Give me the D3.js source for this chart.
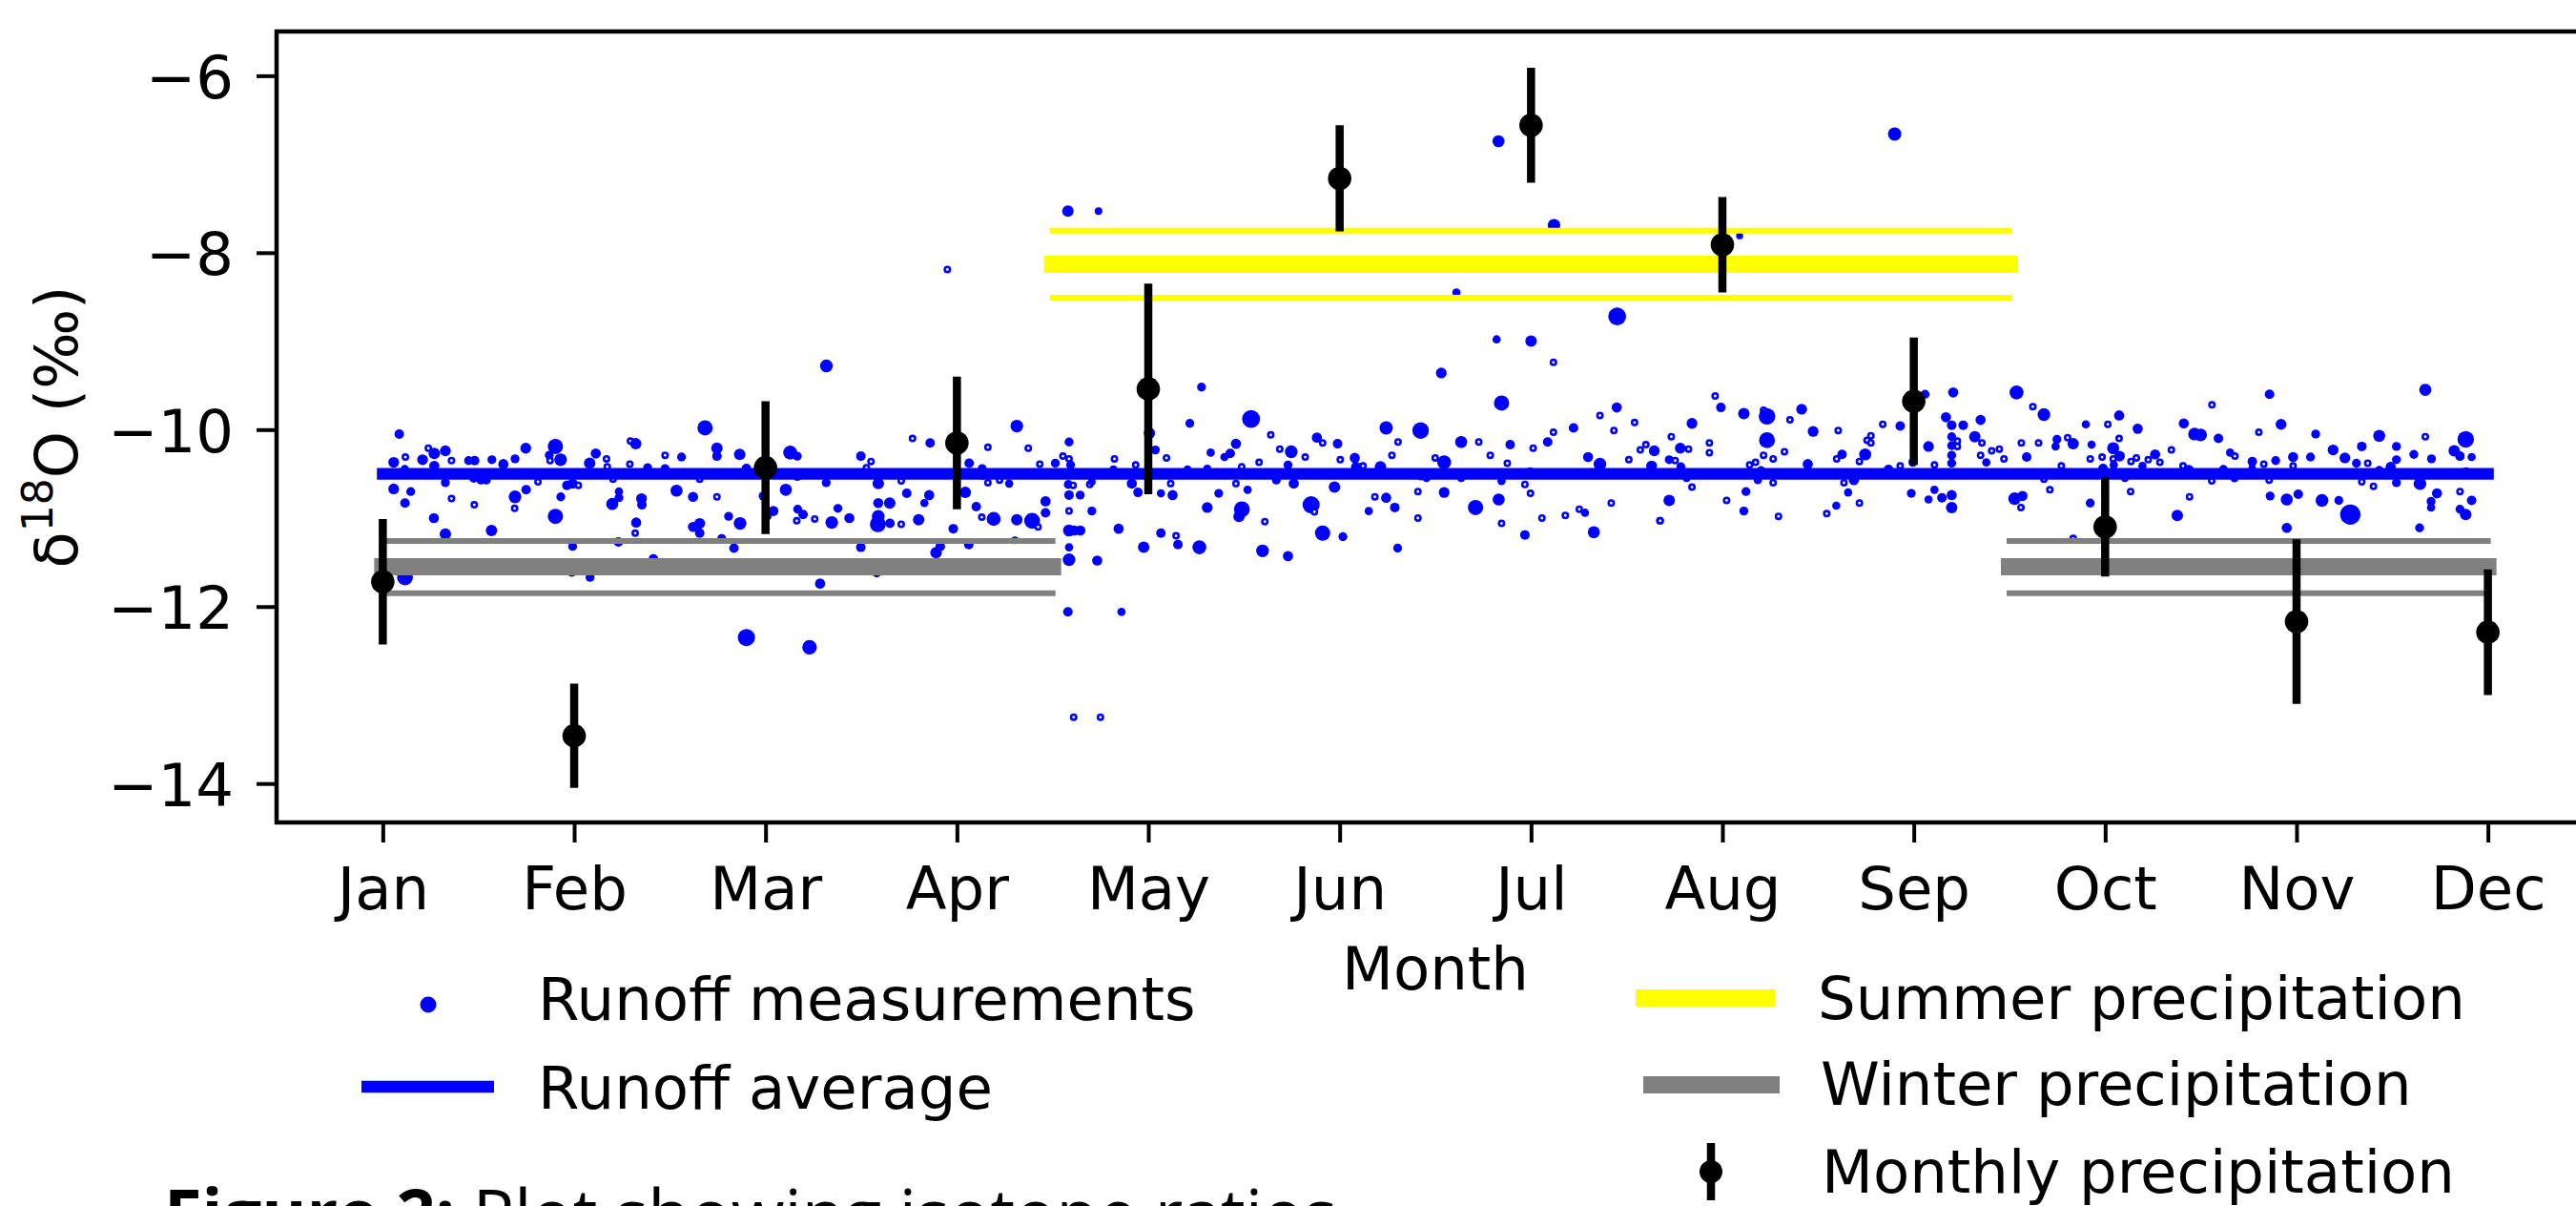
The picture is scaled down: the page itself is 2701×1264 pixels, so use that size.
<!DOCTYPE html>
<html>
<head>
<meta charset="utf-8">
<script src="https://cdn.jsdelivr.net/npm/d3@7"></script>
<style>
  body { margin: 0; background: #fff; overflow: hidden; }
  svg { display: block; font-family: "DejaVu Sans", sans-serif; }
</style>
</head>
<body>
<div id="chart"></div>
<script>
// tick labels
var months = ["Jan", "Feb", "Mar", "Apr", "May", "Jun", "Jul", "Aug", "Sep", "Oct", "Nov", "Dec"];
var yTicks = [-14, -12, -10, -8, -6];

// monthly precipitation, mean and error per month
var precipMean = [-11.72, -13.46, -10.43, -10.15, -9.54, -7.16, -6.56, -7.91, -9.68, -11.10, -12.17, -12.29];
var precipErr = [0.71, 0.59, 0.75, 0.75, 1.19, 0.60, 0.65, 0.54, 0.72, 0.56, 0.93, 0.71];

// runoff average over the year
var runoffAverage = -10.5;
var runoffSpan = [1, 12];

// seasonal precipitation: mean and the two limit lines
var summerMean = -8.13;
var summerLimits = [-7.75, -8.51];
var summerSpan = [4.5, 9.5];
var winterMean = -11.55;
var winterLimits = [-11.26, -11.85];
var winterSpans = [[1, 4.5], [9.5, 12]];

// runoff measurements: [month, d18O, marker size] (size 0 = tiny open marker)
var runoff = [
  [1.086,-10.05,15],[1.057,-10.37,17],[1.118,-10.31,0],[1.115,-10.45,14],[1.057,-10.67,17],[1.146,-10.70,14],[1.116,-10.83,15],[1.208,-10.34,17],[1.238,-10.21,0],[1.269,-10.27,18],[1.269,-10.41,16],[1.327,-10.24,17],[1.359,-10.35,0],[1.327,-10.60,14],[1.359,-10.78,0],[1.267,-11.00,16],[1.327,-11.18,18],[1.448,-10.35,14],[1.480,-10.35,15],[1.478,-10.85,0],[1.475,-10.55,14],[1.513,-10.57,14],[1.541,-10.57,14],[1.570,-10.34,14],[1.630,-10.39,16],[1.568,-11.14,18],[1.691,-10.33,14],[1.747,-10.21,17],[1.691,-10.76,20],[1.689,-10.89,0],[1.749,-10.68,15],[1.811,-10.59,0],[1.870,-10.29,14],[1.874,-10.35,0],[1.902,-10.19,24],[1.929,-10.34,20],[1.930,-10.76,14],[1.962,-10.63,15],[1.992,-10.61,16],[2.022,-10.63,0],[1.902,-10.98,24],[1.992,-11.32,14],[1.988,-11.62,12],[2.081,-10.38,18],[2.113,-10.27,16],[2.083,-11.67,14],[2.169,-10.33,0],[2.173,-10.42,0],[2.203,-10.56,0],[2.234,-10.70,13],[2.234,-10.77,14],[2.199,-10.84,19],[2.231,-11.27,15],[2.294,-10.13,0],[2.322,-10.16,18],[2.291,-10.39,0],[2.384,-10.43,14],[2.352,-10.78,17],[2.354,-10.85,15],[2.324,-11.05,16],[2.319,-11.17,0],[2.414,-11.46,15],[2.475,-10.29,0],[2.475,-10.44,14],[2.561,-10.31,14],[2.535,-10.69,19],[2.621,-10.76,16],[2.656,-10.56,0],[2.684,-9.98,24],[2.746,-10.21,18],[2.746,-10.30,15],[2.746,-10.76,0],[2.621,-11.10,16],[2.656,-11.06,17],[2.656,-11.17,15],[2.771,-11.23,14],[2.807,-10.98,14],[2.865,-10.28,18],[2.900,-10.44,15],[2.835,-11.34,15],[2.867,-11.06,20],[2.987,-10.75,14],[3.041,-10.92,16],[3.008,-10.98,14],[3.106,-10.68,19],[3.129,-10.26,22],[3.166,-10.30,14],[3.166,-10.53,14],[3.168,-10.90,14],[3.196,-10.96,15],[3.163,-11.03,0],[1.116,-11.67,25],
  [3.95,-8.19,0],[2.90,-12.35,27],[3.23,-12.46,23],[4.58,-7.53,18],[4.74,-7.53,12],[4.61,-13.25,0],[4.75,-13.25,0],[4.58,-12.06,15],[4.86,-12.06,13],
  [3.318,-9.28,20],[3.317,-10.60,14],[3.378,-10.89,14],[3.257,-11.01,0],[3.346,-11.05,20],[3.438,-11.00,16],[3.498,-10.30,15],[3.551,-10.36,0],[3.527,-10.43,0],[3.589,-10.61,18],[3.589,-10.83,16],[3.649,-10.83,18],[3.589,-10.98,20],[3.587,-11.07,25],[3.650,-11.06,15],[3.709,-10.58,0],[3.709,-11.07,0],[3.498,-11.33,15],[3.581,-11.62,14],[3.285,-11.74,16],[3.768,-10.10,0],[3.860,-10.15,15],[3.738,-10.72,15],[3.830,-10.83,13],[3.855,-10.74,16],[3.800,-11.02,18],[3.913,-11.32,15],[3.891,-11.39,18],[3.981,-11.12,15],[4.044,-10.71,18],[4.064,-10.38,15],[4.132,-10.44,14],[4.135,-10.52,13],[4.162,-10.20,0],[4.162,-10.60,0],[4.223,-10.57,0],[4.101,-10.87,15],[4.130,-10.99,0],[4.192,-11.01,22],[4.062,-11.30,15],[4.273,-10.61,13],[4.313,-9.96,20],[4.373,-10.21,0],[4.313,-11.02,18],[4.393,-11.03,25],[4.424,-11.10,0],[4.303,-11.25,12],[4.433,-10.39,0],[4.463,-10.81,16],[4.463,-10.94,15],[4.514,-10.38,14],[4.554,-10.30,0],[4.586,-10.14,14],[4.586,-10.33,0],[4.594,-10.40,14],[4.582,-10.62,14],[4.607,-10.63,0],[4.586,-10.74,15],[4.586,-10.92,0],[4.586,-11.14,19],[4.614,-11.14,16],[4.645,-11.14,16],[4.586,-11.33,13],[4.586,-11.47,20],[4.644,-10.74,14],[4.694,-10.62,0],[4.705,-10.59,12],[4.705,-10.92,14],[4.733,-11.48,16],[4.823,-10.33,0],[4.818,-10.45,13],[4.845,-11.12,16],[4.914,-10.61,16],[4.934,-10.40,0],[4.946,-10.71,15],[5.006,-10.04,18],[5.037,-10.23,14],[5.066,-10.72,13],[5.066,-11.17,15],[4.976,-11.33,18],[5.095,-10.32,0],[5.117,-10.61,0],[5.127,-10.74,16],[5.145,-11.20,0],[5.155,-11.30,15],[5.217,-9.93,14],[5.278,-9.52,14],[5.205,-10.45,13],[5.267,-11.33,22],[5.308,-10.88,17],[5.326,-10.26,13],[5.308,-10.44,12],[5.368,-10.72,14],[5.398,-10.31,13],[5.428,-10.27,15],
  [5.458,-10.16,16],[5.458,-10.61,0],[5.489,-10.90,25],[5.474,-10.98,18],[5.488,-10.42,0],[5.519,-10.68,13],[5.537,-9.88,28],[5.579,-10.37,0],[5.640,-10.06,0],[5.687,-10.22,0],[5.669,-10.57,14],[5.730,-10.40,14],[5.747,-10.25,20],[5.760,-10.61,16],[5.820,-10.31,0],[5.609,-11.04,0],[5.597,-11.37,20],[5.730,-11.43,16],[5.851,-10.85,27],[5.868,-10.93,0],[5.881,-10.09,16],[5.911,-10.15,0],[5.989,-10.16,15],[6.003,-10.34,0],[5.973,-10.65,18],[5.911,-11.17,24],[6.017,-11.21,14],[6.079,-10.32,16],[6.086,-10.42,16],[6.122,-10.41,0],[6.213,-10.42,18],[6.243,-9.98,21],[6.184,-10.76,0],[6.243,-10.77,16],[6.288,-10.88,15],[6.152,-10.92,13],[6.305,-10.14,0],[6.273,-10.29,0],[6.303,-11.34,14],[6.423,-10.01,26],[6.426,-10.53,12],[6.454,-10.55,12],[6.409,-10.70,0],[6.409,-11.00,0],[6.531,-9.36,17],[6.499,-10.32,0],[6.546,-10.37,22],[6.546,-10.71,17],[6.635,-10.14,19],[6.635,-10.55,12],[6.710,-10.88,24],[6.727,-10.14,0],[6.787,-10.29,0],[6.846,-9.70,24],[6.891,-10.17,15],[6.876,-10.38,0],[6.846,-10.58,13],[6.831,-10.79,19],[6.846,-11.06,0],[6.968,-10.62,0],[6.997,-10.72,0],[6.996,-10.47,12],[7.011,-10.21,0],[6.968,-11.19,15],[7.087,-10.14,15],[7.117,-10.03,0],[7.117,-9.24,0],[7.057,-11.00,0],[7.222,-9.98,15],[7.179,-10.97,0],[7.252,-10.90,0],[7.282,-10.94,13],[7.298,-10.31,16],[7.360,-10.39,20],[7.328,-11.16,19],[7.360,-9.84,0],[7.448,-9.75,16],[7.433,-10.01,0],[7.419,-10.83,0],[7.511,-10.34,0],[7.541,-9.92,0],[7.571,-10.23,0],[7.600,-10.17,0],[7.644,-10.24,17],[7.630,-10.41,17],[7.673,-11.03,0],
  [6.83,-6.74,19],[7.12,-7.69,20],[6.61,-8.45,13],[7.45,-8.72,28],[6.82,-8.98,13],[7.00,-9.00,18],[8.09,-7.81,11],[8.90,-6.66,21],
  [7.733,-10.08,0],[7.722,-10.34,14],[7.753,-10.35,0],[7.780,-10.21,17],[7.783,-10.42,14],[7.813,-10.55,12],[7.823,-10.22,0],[7.841,-9.93,17],[7.841,-10.65,0],[7.722,-10.80,18],[7.675,-11.03,0],[7.932,-10.15,0],[7.932,-10.26,0],[7.962,-9.62,0],[7.992,-9.75,15],[8.022,-10.80,0],[8.112,-9.82,18],[8.123,-10.70,14],[8.112,-10.92,14],[8.142,-10.40,0],[8.173,-10.37,0],[8.185,-10.57,13],[8.202,-10.46,13],[8.215,-10.29,0],[8.215,-9.78,0],[8.233,-9.85,26],[8.233,-10.12,25],[8.265,-10.33,0],[8.265,-10.60,0],[8.293,-10.98,0],[8.324,-10.25,0],[8.353,-9.89,0],[8.414,-9.77,17],[8.474,-10.02,17],[8.446,-10.39,16],[8.545,-10.95,0],[8.595,-10.86,13],[8.605,-10.01,0],[8.597,-10.33,0],[8.625,-10.28,15],[8.635,-10.60,0],[8.657,-10.71,13],[8.687,-10.57,16],[8.716,-10.36,0],[8.716,-10.83,0],[8.746,-10.28,19],[8.756,-10.12,0],[8.776,-10.07,0],[8.776,-10.15,0],[8.838,-9.94,0],[8.868,-10.45,15],[8.929,-9.96,15],[8.929,-10.41,0],[8.987,-10.72,14],[8.995,-10.37,14],[9.059,-9.60,14],[9.077,-10.19,17],[9.108,-10.40,0],[9.108,-10.68,13],[9.077,-10.79,13],[9.147,-10.77,15],[9.168,-9.86,16],[9.198,-9.95,15],[9.206,-9.58,16],[9.198,-10.08,14],[9.198,-10.18,14],[9.198,-10.29,14],[9.198,-10.38,14],[9.228,-10.13,0],[9.228,-10.19,0],[9.198,-10.74,16],[9.198,-10.88,18],[9.258,-9.95,15],[9.319,-10.08,18],[9.349,-9.89,16],[9.356,-10.15,0],[9.349,-10.29,0],[9.379,-10.37,13],[9.407,-10.24,0],[9.447,-10.22,0],[9.471,-10.33,0],[9.537,-9.58,22],[9.562,-10.15,0],[9.590,-10.31,15],[9.527,-10.78,20],[9.568,-10.75,16],[9.560,-10.88,0],[9.622,-9.74,0],[9.680,-9.83,20],[9.652,-10.15,0],[9.680,-10.56,0],[9.711,-10.68,0],[9.741,-10.19,13],[9.748,-10.11,14],[9.771,-10.41,0],[9.804,-10.09,0],[9.833,-10.16,18],[9.899,-9.94,13],[9.929,-10.17,13],[9.922,-10.33,0],[9.922,-10.83,14],[9.833,-11.23,0],
  [10.014,-9.94,0],[10.073,-9.84,16],[10.073,-10.10,0],[10.042,-10.21,19],[10.075,-10.30,17],[10.042,-10.33,0],[9.984,-10.31,0],[9.989,-10.44,15],[10.045,-10.40,13],[10.103,-10.55,0],[10.133,-10.70,0],[10.135,-10.36,0],[10.163,-10.32,0],[10.170,-9.99,16],[10.195,-10.41,13],[10.225,-10.34,0],[10.261,-10.28,16],[10.286,-10.37,0],[10.346,-10.23,0],[10.407,-10.41,0],[10.411,-9.93,16],[10.437,-10.46,17],[10.441,-10.76,0],[10.377,-10.97,18],[10.467,-10.05,20],[10.499,-10.06,20],[10.558,-9.72,0],[10.592,-10.10,15],[10.557,-10.58,0],[10.618,-10.45,14],[10.653,-10.26,13],[10.678,-10.30,0],[10.676,-10.55,13],[10.769,-10.36,15],[10.768,-10.44,12],[10.803,-10.03,0],[10.829,-10.39,0],[10.859,-9.60,15],[10.857,-10.57,0],[10.862,-10.75,14],[10.891,-10.35,14],[10.919,-9.94,17],[10.949,-10.79,19],[10.949,-11.11,16],[10.982,-10.31,16],[10.982,-10.41,0],[11.009,-10.73,15],[11.073,-10.31,14],[11.100,-10.05,14],[11.133,-10.80,20],[11.191,-10.23,17],[11.221,-10.80,14],[11.253,-10.32,17],[11.281,-10.96,32],[11.313,-10.38,14],[11.341,-10.19,15],[11.341,-10.59,0],[11.372,-10.38,0],[11.402,-10.64,0],[11.432,-10.07,19],[11.432,-10.46,14],[11.492,-10.42,16],[11.522,-10.19,14],[11.522,-10.34,14],[11.522,-10.60,14],[11.613,-10.28,14],[11.645,-10.61,20],[11.643,-11.11,14],[11.673,-9.55,19],[11.673,-10.08,0],[11.705,-10.33,14],[11.734,-10.72,16],[11.703,-10.81,14],[11.703,-10.88,13],[11.824,-10.24,18],[11.854,-10.30,15],[11.884,-10.11,26],[11.915,-10.31,13],[11.854,-10.70,0],[11.915,-10.80,15],[11.854,-10.90,14],[11.884,-10.96,18],[11.886,-10.47,12]
];

// legend entries
var legendLeft = ["Runoff measurements", "Runoff average"];
var legendRight = ["Summer precipitation", "Winter precipitation", "Monthly precipitation"];
var caption = ["Figure 2:", " Plot showing isotope ratios"];

// figure size and axes box (the right spine sits just off the picture)
var W = 2701, H = 1264;
var box = {left: 290, right: 2720, top: 33, bottom: 862};
var fontSize = 62.5;

var svg = d3.select("#chart")
  .append("svg")
    .attr("width", W)
    .attr("height", H);

var x = d3.scaleLinear().domain([0.445, 12.555]).range([box.left, box.right]);
var y = d3.scaleLinear().domain([-14.44, -5.50]).range([box.bottom, box.top]);
var r = d3.scaleLinear().domain([0, 30]).range([0, 10]);

var hline = d3.line()
  .x(function(d) { return x(d[0]); })
  .y(function(d) { return y(d[1]); });

// scatter of runoff measurements
svg.append("g")
  .selectAll("circle")
  .data(runoff)
  .join("circle")
    .attr("cx", function(d) { return x(d[0]); })
    .attr("cy", function(d) { return y(d[1]); })
    .attr("r", function(d) { return d[2] > 0 ? r(d[2]) : 2.7; })
    .attr("fill", function(d) { return d[2] > 0 ? "#0000ff" : "#ffffff"; })
    .attr("stroke", function(d) { return d[2] > 0 ? "none" : "#0000ff"; })
    .attr("stroke-width", 2.6);

// runoff average
svg.append("path")
  .attr("d", hline([[runoffSpan[0], runoffAverage], [runoffSpan[1], runoffAverage]]))
  .attr("stroke", "#0000ff")
  .attr("stroke-width", 12.3)
  .attr("stroke-linecap", "square")
  .attr("fill", "none");

// seasonal bands: thick mean line plus two thin limit lines
function band(span, mean, limits, colour) {
  limits.forEach(function(v) {
    svg.append("path")
      .attr("d", hline([[span[0], v], [span[1], v]]))
      .attr("stroke", colour)
      .attr("stroke-width", 6)
      .attr("stroke-linecap", "square")
      .attr("fill", "none");
  });
  svg.append("path")
    .attr("d", hline([[span[0], mean], [span[1], mean]]))
    .attr("stroke", colour)
    .attr("stroke-width", 18)
    .attr("stroke-linecap", "square")
    .attr("fill", "none");
}
band(summerSpan, summerMean, summerLimits, "#ffff00");
winterSpans.forEach(function(s) { band(s, winterMean, winterLimits, "#808080"); });

// monthly precipitation error bars
var eb = svg.append("g");
eb.selectAll("line")
  .data(precipMean)
  .join("line")
    .attr("x1", function(d, i) { return x(i + 1); })
    .attr("x2", function(d, i) { return x(i + 1); })
    .attr("y1", function(d, i) { return y(d + precipErr[i]); })
    .attr("y2", function(d, i) { return y(d - precipErr[i]); })
    .attr("stroke", "#000")
    .attr("stroke-width", 8.5);
eb.selectAll("circle")
  .data(precipMean)
  .join("circle")
    .attr("cx", function(d, i) { return x(i + 1); })
    .attr("cy", function(d) { return y(d); })
    .attr("r", 12.3)
    .attr("fill", "#000");

// axes
var xAxis = svg.append("g")
  .attr("transform", "translate(0," + box.bottom + ")")
  .call(d3.axisBottom(x)
    .tickValues(d3.range(1, 13))
    .tickFormat(function(d) { return months[d - 1]; })
    .tickSize(21));
var yAxis = svg.append("g")
  .attr("transform", "translate(" + box.left + ",0)")
  .call(d3.axisLeft(y).tickValues(yTicks).tickSize(21));

[xAxis, yAxis].forEach(function(a) {
  a.select(".domain").remove();
  a.selectAll(".tick line").attr("stroke", "#000").attr("stroke-width", 4);
  a.selectAll(".tick text")
    .attr("fill", "#000")
    .style("font-family", "DejaVu Sans")
    .style("font-size", fontSize + "px");
});
xAxis.selectAll(".tick text").attr("y", 91).attr("dy", null);
yAxis.selectAll(".tick text").attr("x", -45).attr("dy", "0.37em");

// spines
svg.append("rect")
  .attr("x", box.left)
  .attr("y", box.top)
  .attr("width", box.right - box.left)
  .attr("height", box.bottom - box.top)
  .attr("fill", "none")
  .attr("stroke", "#000")
  .attr("stroke-width", 4.5);

// axis titles
svg.append("text")
  .attr("x", (box.left + box.right) / 2)
  .attr("y", 1037)
  .attr("text-anchor", "middle")
  .style("font-size", fontSize + "px")
  .text("Month");

var yl = svg.append("text")
  .attr("transform", "translate(81," + (box.top + box.bottom) / 2 + ") rotate(-90)")
  .attr("text-anchor", "middle")
  .style("font-size", fontSize + "px");
yl.append("tspan").text("δ");
yl.append("tspan").attr("dy", -26).style("font-size", "44px").text("18");
yl.append("tspan").attr("dy", 26).text("O (‰)");

// legend, left block
var legL = svg.append("g");
legL.append("circle").attr("cx", 449).attr("cy", 1053).attr("r", 8.5).attr("fill", "#0000ff");
legL.append("line")
  .attr("x1", 379).attr("x2", 518).attr("y1", 1139).attr("y2", 1139)
  .attr("stroke", "#0000ff").attr("stroke-width", 12.3);
legL.selectAll("text")
  .data(legendLeft)
  .join("text")
    .attr("x", 564)
    .attr("y", function(d, i) { return [1069, 1162][i]; })
    .style("font-size", fontSize + "px")
    .text(function(d) { return d; });

// legend, right block
var legR = svg.append("g");
legR.append("line")
  .attr("x1", 1715).attr("x2", 1861).attr("y1", 1046).attr("y2", 1046)
  .attr("stroke", "#ffff00").attr("stroke-width", 18);
legR.append("line")
  .attr("x1", 1723).attr("x2", 1866).attr("y1", 1137).attr("y2", 1137)
  .attr("stroke", "#808080").attr("stroke-width", 18);
legR.append("line")
  .attr("x1", 1794).attr("x2", 1794).attr("y1", 1198).attr("y2", 1258)
  .attr("stroke", "#000").attr("stroke-width", 8.5);
legR.append("circle").attr("cx", 1794).attr("cy", 1228).attr("r", 12).attr("fill", "#000");
legR.selectAll("text")
  .data(legendRight)
  .join("text")
    .attr("x", function(d, i) { return [1906, 1909, 1910][i]; })
    .attr("y", function(d, i) { return [1068, 1158, 1250][i]; })
    .style("font-size", fontSize + "px")
    .text(function(d) { return d; });

// caption, cut by the bottom edge as in the source figure
var cap = svg.append("text")
  .attr("x", 172)
  .attr("y", 1298)
  .style("font-family", "'Open Sans', sans-serif")
  .style("font-size", "72px");
cap.append("tspan").style("font-weight", "bold").text(caption[0]);
cap.append("tspan").text(caption[1]);
</script>
</body>
</html>
